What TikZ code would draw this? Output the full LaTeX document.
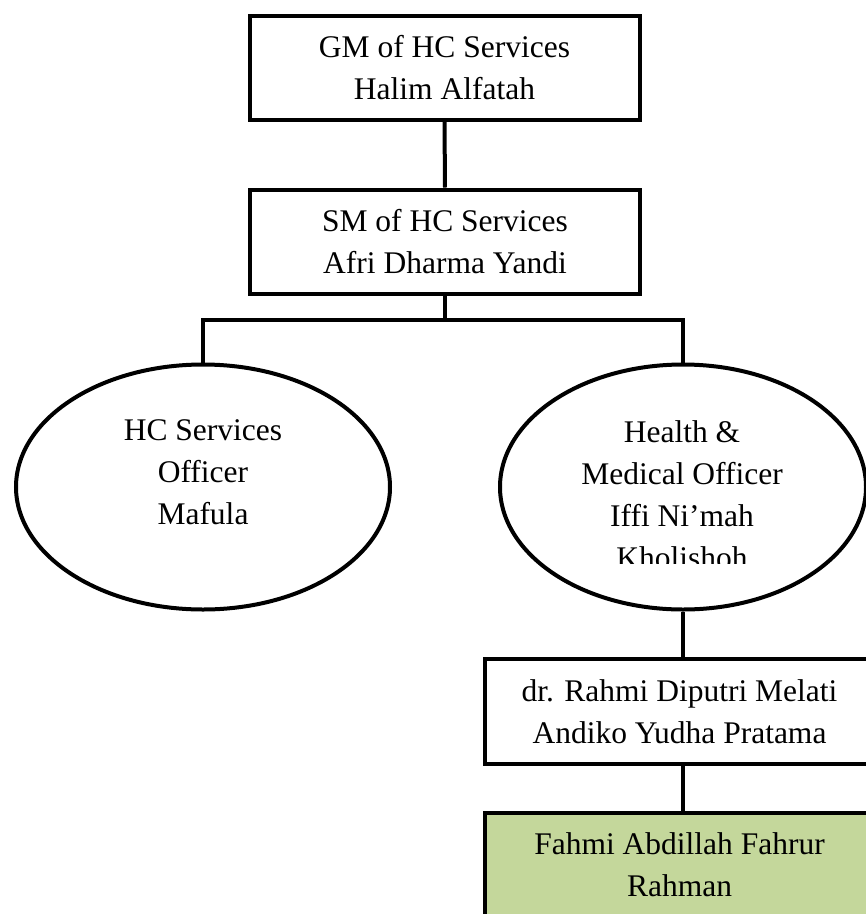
\documentclass[tikz,border=0pt]{standalone}
\usepackage{fontspec}
\setmainfont{Liberation Serif}
\usetikzlibrary{shapes.geometric}
\definecolor{leafgreen}{HTML}{C4D79B}
\newcommand\orgfont{\fontsize{31.5}{42}\selectfont}
\tikzset{
  orgbox/.style={draw, line width=4pt, rectangle, minimum width=390pt, minimum height=104pt, inner sep=0pt, align=center, font=\orgfont},
  orgoval/.style={draw, line width=4pt, ellipse, inner sep=0pt},
  orgtext/.style={inner sep=0pt, align=center, font=\orgfont},
  link/.style={line width=4pt}
}
\begin{document}
\begin{tikzpicture}[x=1pt,y=-1pt]
\useasboundingbox (0,0) rectangle (866,914);
\clip (0,0) rectangle (866,914);
\node[orgbox] (gm) at (444.5,67.5) {GM of HC Services\\Halim Alfatah};
\node[orgbox] (sm) at (445,241.5) {SM of HC Services\\Afri Dharma Yandi};
\node[orgoval, minimum width=374pt, minimum height=245pt] (hcs) at (203,487) {};
\node[orgoval, minimum width=366pt, minimum height=245pt] (hmo) at (683,487) {};
\node[orgtext] (hcstext) at (203,472) {HC Services\\Officer\\Mafula};
\begin{scope}
  \clip (480,360) rectangle (866,563.5);
  \node[orgtext] (hmotext) at (682,494.75) {Health \&\\Medical Officer\\Iffi Ni’mah\\Kholishoh};
\end{scope}
\node[orgbox, minimum height=105pt] (dr) at (679.5,711.5) {dr. Rahmi Diputri Melati\\Andiko Yudha Pratama};
\node[orgbox, fill=leafgreen, minimum height=105pt] (fahmi) at (679.5,865) {Fahmi Abdillah Fahrur\\Rahman};
\coordinate (bus) at (445,320);
\draw[link] (gm.south) -- (sm.north);
\draw[link] (sm.south) -- (bus);
\draw[link] (hcs.north) |- (bus) -| (hmo.north);
\draw[link] (hmo.south) -- (hmo.south |- dr.north);
\draw[link] (hmo.south |- dr.south) -- (hmo.south |- fahmi.north);
\end{tikzpicture}
\end{document}
